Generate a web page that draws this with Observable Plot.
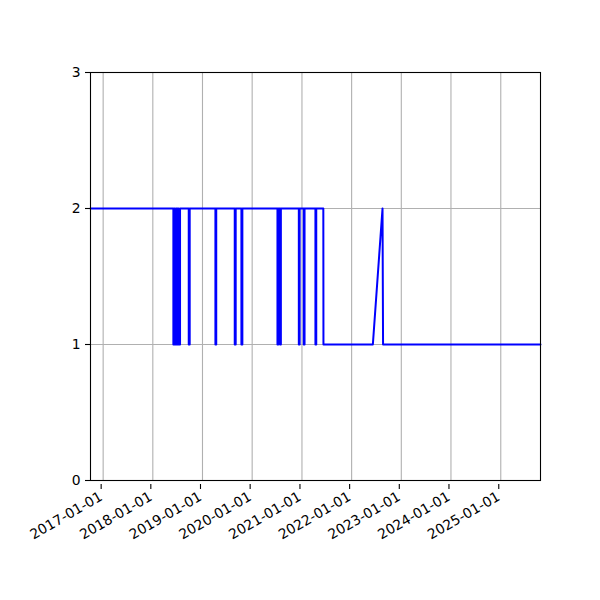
<!DOCTYPE html>
<html>
<head>
<meta charset="utf-8">
<script src="https://cdn.jsdelivr.net/npm/d3@7"></script>
<script src="https://cdn.jsdelivr.net/npm/@observablehq/plot@0.6"></script>
<style>
  html, body { margin: 0; padding: 0; background: white; }
  #chart { width: 600px; height: 600px; }
</style>
</head>
<body>
<div id="chart"></div>
<script>
// Observation dates and values (level 1 or 2)
const dates = [
  "2016-09-30", "2018-06-01", "2018-06-01", "2018-06-08", "2018-06-08",
  "2018-06-13", "2018-06-13", "2018-06-21", "2018-06-21", "2018-06-28",
  "2018-06-28", "2018-07-04", "2018-07-04", "2018-07-09", "2018-07-09",
  "2018-07-20", "2018-07-20",
  "2018-09-22", "2018-09-22", "2018-09-29", "2018-09-29",
  "2019-04-06", "2019-04-06", "2019-04-12", "2019-04-12",
  "2019-08-26", "2019-08-26", "2019-09-02", "2019-09-02",
  "2019-10-14", "2019-10-14", "2019-10-21", "2019-10-21",
  "2020-07-05", "2020-07-05", "2020-07-11", "2020-07-11",
  "2020-07-24", "2020-07-24", "2020-07-30", "2020-07-30",
  "2020-12-09", "2020-12-09", "2020-12-15", "2020-12-15",
  "2021-01-14", "2021-01-14", "2021-01-20", "2021-01-20",
  "2021-04-10", "2021-04-10", "2021-04-16", "2021-04-16",
  "2021-06-07", "2021-06-08",
  "2022-06-06", "2022-08-16", "2022-08-20",
  "2025-10-20"
];
const values = [
  2, 2, 1, 1, 2,
  2, 1, 1, 2, 2,
  1, 1, 2, 2, 1,
  1, 2,
  2, 1, 1, 2,
  2, 1, 1, 2,
  2, 1, 1, 2,
  2, 1, 1, 2,
  2, 1, 1, 2,
  2, 1, 1, 2,
  2, 1, 1, 2,
  2, 1, 1, 2,
  2, 1, 1, 2,
  2, 1,
  1, 2, 1,
  1
];
const xDomain = ["2016-09-30", "2025-10-20"];
const yTicks = [0, 1, 2, 3];
const xTickYears = ["2017-01-01", "2018-01-01", "2019-01-01", "2020-01-01", "2021-01-01",
                    "2022-01-01", "2023-01-01", "2024-01-01", "2025-01-01"];

const parse = d3.utcParse("%Y-%m-%d");
const data = dates.map((d, i) => ({date: parse(d), value: values[i]}));
const xTicks = xTickYears.map(parse);

const chart = Plot.plot({
  width: 600,
  height: 600,
  marginLeft: 90,
  marginRight: 60,
  marginTop: 72,
  marginBottom: 120,
  style: {fontFamily: "DejaVu Sans", fontSize: "13.9px", color: "black", background: "white"},
  x: {type: "utc", domain: xDomain.map(parse)},
  y: {domain: [0, 3]},
  marks: [
    Plot.gridX(xTicks, {stroke: "#b0b0b0", strokeOpacity: 1, strokeWidth: 1.1}),
    Plot.gridY(yTicks, {stroke: "#b0b0b0", strokeOpacity: 1, strokeWidth: 1.1}),
    Plot.line(data, {x: "date", y: "value", stroke: "blue", strokeWidth: 2, curve: "linear"}),
    Plot.frame({stroke: "black", strokeWidth: 1.1}),
    Plot.axisX(xTicks, {
      tickFormat: d3.utcFormat("%Y-%m-%d"),
      tickRotate: -30,
      tickSize: 5,
      tickPadding: 6,
      label: null,
      stroke: "black",
      strokeWidth: 1.1,
      textStroke: null,
      dx: -2,
      dy: 4
    }),
    Plot.axisY(yTicks, {
      tickSize: 5,
      tickPadding: 5,
      tickFormat: d => String(d),
      label: null,
      stroke: "black",
      strokeWidth: 1.1
    })
  ]
});
document.getElementById("chart").appendChild(chart);
</script>
</body>
</html>
